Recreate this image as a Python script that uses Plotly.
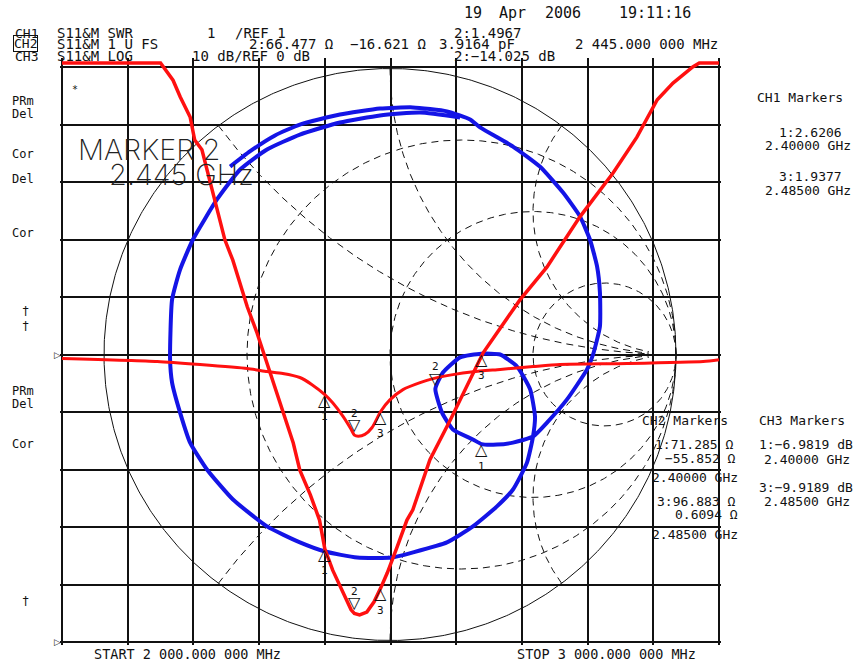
import numpy as np
import plotly.graph_objects as go

# ---------------- measurement data ----------------
START_MHZ, STOP_MHZ = 2000.0, 3000.0

# marker readouts (markers 1, 2, 3)
marker_freq_mhz = [2400.0, 2445.0, 2485.0]
marker_swr = [2.6206, 1.4967, 1.9377]
marker_logmag_db = [-6.9819, -14.025, -9.9189]
marker_z_re = [71.285, 66.477, 96.883]
marker_z_im = [-55.852, -16.621, 0.6094]
Z0 = 50.0

# CH1: S11 SWR
swr_freq = [2000, 2100, 2150, 2169, 2180, 2195, 2202, 2213, 2230, 2248, 2260, 2282,
            2297, 2317, 2336, 2352, 2362, 2378, 2392, 2400, 2412, 2428, 2440, 2445,
            2453, 2464, 2475, 2485, 2495, 2510, 2525, 2534, 2560, 2591, 2641, 2697,
            2738, 2788, 2839, 2875, 2906, 2930, 2960, 2970, 3000]
swr_val = [18.0, 14.5, 11.3, 10.77, 10.48, 10.13, 9.73, 9.56, 8.81, 7.99, 7.64, 6.83,
           6.37, 5.68, 5.03, 4.46, 3.99, 3.56, 3.12, 2.6206, 2.25, 1.87, 1.56, 1.4967,
           1.47, 1.52, 1.70, 1.9377, 2.20, 2.65, 3.12, 3.30, 4.17, 4.86, 6.03, 6.95,
           7.52, 8.39, 9.16, 9.78, 10.43, 10.72, 11.0, 11.3, 14.0]

# CH3: S11 log magnitude (dB)
lm_freq = [2000, 2145, 2210, 2282, 2312, 2336, 2362, 2380, 2400, 2412, 2428, 2440,
           2445, 2451, 2461, 2472, 2485, 2499, 2519, 2545, 2565, 2595, 2626, 2667,
           2717, 2758, 2860, 2976, 3000]
lm_db = [-0.70, -1.22, -1.74, -2.43, -2.96, -3.30, -4.0, -5.2, -6.9819, -8.4, -10.8,
         -13.0, -14.025, -14.2, -13.9, -12.7, -9.9189, -7.9, -6.1, -4.9, -4.2, -3.5,
         -3.0, -2.6, -2.1, -1.74, -1.57, -1.22, -0.9]

# CH2: S11 on the Smith chart (reflection coefficient, 2 GHz -> 3 GHz)
smith_re = [-0.559, -0.490, -0.402, -0.315, -0.175, -0.035, 0.080, 0.199, 0.280, 0.315,
            0.430, 0.524, 0.605, 0.664, 0.699, 0.724, 0.734, 0.734, 0.710, 0.689,
            0.619, 0.549, 0.500, 0.430, 0.374, 0.3197, 0.290, 0.220, 0.182, 0.1586,
            0.185, 0.245, 0.3192, 0.385, 0.444, 0.490, 0.507, 0.500, 0.479, 0.430,
            0.374, 0.290, 0.199, 0.080, 0.007, -0.115, -0.227, -0.315, -0.430, -0.549,
            -0.640, -0.699, -0.734, -0.762, -0.769, -0.762, -0.734, -0.689, -0.605,
            -0.524, -0.430, -0.315, -0.175, -0.035, 0.105, 0.245]
smith_im = [0.657, 0.710, 0.766, 0.804, 0.839, 0.860, 0.864, 0.850, 0.822, 0.794,
            0.727, 0.657, 0.566, 0.483, 0.402, 0.308, 0.217, 0.098, 0.0, -0.052,
            -0.157, -0.238, -0.287, -0.308, -0.315, -0.3132, -0.297, -0.262, -0.203,
            -0.1201, -0.063, -0.010, 0.0028, 0.0, -0.042, -0.122, -0.217, -0.287,
            -0.378, -0.472, -0.531, -0.601, -0.657, -0.692, -0.710, -0.710, -0.689,
            -0.657, -0.601, -0.507, -0.402, -0.308, -0.203, -0.098, -0.017, 0.192,
            0.297, 0.402, 0.542, 0.647, 0.717, 0.769, 0.811, 0.836, 0.846, 0.829]

# Smith chart graticule values
graticule_r = [1.0 / 3.0, 1.0, 3.0]
graticule_x = [0.5, -0.5, 1.0, -1.0, 2.0, -2.0]

# ---------------- display geometry (pixels) ----------------
W, H = 853, 663
PL, PR, PT, PB = 60, 721, 58, 645          # plot area
GL, GR, GT, GB = 62, 719, 67, 642          # graticule box
GCY = (GT + GB) / 2.0
SMITH_CX, SMITH_R = 390.0, 286.0
SWR_TOP_CLIP = 11.0 + 4.0 / 57.5           # trace pinned just above the top line

px_mhz = (GR - GL) / (STOP_MHZ - START_MHZ)
px_swr = (GB - GT) / 10.0
px_db = (GB - GT) / 100.0

f_range = [START_MHZ - (GL - PL) / px_mhz, STOP_MHZ + (PR - GR) / px_mhz]
swr_range = [1.0 - (PB - GB) / px_swr, 11.0 + (GT - PT) / px_swr]
db_range = [-(PB - GCY) / px_db, (GCY - PT) / px_db]
gx_range = [(PL - SMITH_CX) / SMITH_R, (PR - SMITH_CX) / SMITH_R]
gy_range = [-(PB - GCY) / SMITH_R, (GCY - PT) / SMITH_R]

INK = "#111111"
RED = "#ff1010"
BLUE = "#1414e6"
MONO = "DejaVu Sans Mono, monospace"

fig = go.Figure()

# --- Smith graticule ---
t = np.linspace(0, 2 * np.pi, 721)
fig.add_trace(go.Scatter(x=np.cos(t), y=np.sin(t), mode="lines",
                         line=dict(color=INK, width=1), hoverinfo="skip",
                         xaxis="x", yaxis="y"))
for r in graticule_r:
    fig.add_trace(go.Scatter(x=r / (1 + r) + np.cos(t) / (1 + r), y=np.sin(t) / (1 + r),
                             mode="lines", line=dict(color=INK, width=1, dash="7px,5px"),
                             hoverinfo="skip", xaxis="x", yaxis="y"))
rr = np.concatenate([np.linspace(0, 1, 200), np.geomspace(1.01, 20, 300)])
for xv in graticule_x:
    g = (rr + 1j * xv - 1) / (rr + 1j * xv + 1)
    fig.add_trace(go.Scatter(x=g.real, y=g.imag, mode="lines",
                             line=dict(color=INK, width=1, dash="7px,5px"),
                             hoverinfo="skip", xaxis="x", yaxis="y"))

# --- CH2 Smith trace ---
fig.add_trace(go.Scatter(x=smith_re, y=smith_im, mode="lines",
                         line=dict(color=BLUE, width=4, shape="spline", smoothing=0.5),
                         xaxis="x", yaxis="y"))

# --- CH1 SWR trace ---
fig.add_trace(go.Scatter(x=swr_freq, y=np.minimum(swr_val, SWR_TOP_CLIP), mode="lines",
                         line=dict(color=RED, width=3.5),
                         xaxis="x2", yaxis="y2"))

# --- CH3 log magnitude trace ---
fig.add_trace(go.Scatter(x=lm_freq, y=lm_db, mode="lines",
                         line=dict(color=RED, width=3, shape="spline", smoothing=0.6),
                         xaxis="x2", yaxis="y3"))

# ---------------- markers ----------------
z = (np.array(marker_z_re) + 1j * np.array(marker_z_im)) / Z0
gamma_m = (z - 1) / (z + 1)


def add_marker(xv, yv, xref, yref, num):
    if num == 2:
        fig.add_annotation(x=xv, y=yv, xref=xref, yref=yref, text="▽", showarrow=False,
                           yanchor="bottom", yshift=-1,
                           font=dict(family="DejaVu Sans", size=16, color=INK))
        fig.add_annotation(x=xv, y=yv, xref=xref, yref=yref, text="2", showarrow=False,
                           yshift=22, font=dict(family=MONO, size=11, color=INK))
    else:
        fig.add_annotation(x=xv, y=yv, xref=xref, yref=yref, text="△", showarrow=False,
                           yanchor="top", yshift=6,
                           font=dict(family="DejaVu Sans", size=16, color=INK))
        fig.add_annotation(x=xv, y=yv, xref=xref, yref=yref, text=str(num),
                           showarrow=False, yshift=-22,
                           font=dict(family=MONO, size=11, color=INK))


for i, num in enumerate([1, 2, 3]):
    add_marker(marker_freq_mhz[i], marker_swr[i], "x2", "y2", num)
    add_marker(marker_freq_mhz[i], marker_logmag_db[i], "x2", "y3", num)
    add_marker(gamma_m[i].real, gamma_m[i].imag, "x", "y", num)

# ---------------- screen text ----------------


def px_text(px, py, text, size=14, anchor="left", family=MONO, color=INK,
            weight="normal", **kw):
    fig.add_annotation(x=(px - PL) / (PR - PL), y=(PB - py) / (PB - PT),
                       xref="paper", yref="paper", text=text, showarrow=False,
                       xanchor=anchor, yanchor="middle",
                       font=dict(family=family, size=size, color=color, weight=weight),
                       **kw)


px_text(462, 13, "19", size=15)
px_text(497, 13, "Apr", size=15)
px_text(543, 13, "2006", size=15)
px_text(617, 13, "19:11:16", size=15)

px_text(13, 33, "CH1", size=13)
px_text(55, 33, "S11&M SWR")
px_text(205, 33, "1")
px_text(233, 33, "/REF 1")
px_text(452, 33, "2:1.4967")

px_text(13, 44, "CH2", size=13, bordercolor=INK, borderwidth=1, borderpad=0)
px_text(55, 44, "S11&M 1 U FS")
px_text(247, 44, "2:66.477 Ω")
px_text(348, 44, "−16.621 Ω")
px_text(437, 44, "3.9164 pF")
px_text(573, 44, "2 445.000 000 MHz")

px_text(13, 56, "CH3", size=13)
px_text(55, 56, "S11&M LOG")
px_text(190, 56, "10 dB/REF 0 dB")
px_text(452, 56, "2:−14.025 dB")

px_text(70, 89, "*", size=10)
px_text(76, 149, "MARKER 2", size=29, family="Inter, DejaVu Sans", weight=200,
        color="#222222")
px_text(107, 174, "2.445 GHz", size=29, family="Inter, DejaVu Sans", weight=200,
        color="#222222")

for py, label in [(101, "PRm"), (114, "Del"), (154, "Cor"), (179, "Del"), (233, "Cor"),
                  (391, "PRm"), (404, "Del"), (444, "Cor")]:
    px_text(10, py, label, size=12)
for py in [311, 326, 601]:
    px_text(20, py, "†", size=12)
for py in [GCY, GB]:
    px_text(52, py, "▷", size=9, family="DejaVu Sans")

px_text(755, 97, "CH1 Markers", size=13)
px_text(777, 132, "1:2.6206", size=13)
px_text(763, 145, "2.40000 GHz", size=13)
px_text(777, 176, "3:1.9377", size=13)
px_text(763, 191, "2.48500 GHz", size=13)

px_text(640, 421, "CH2 Markers", size=13)
px_text(653, 444, "1:71.285 Ω", size=13)
px_text(663, 458, "−55.852 Ω", size=13)
px_text(650, 477, "2.40000 GHz", size=13)
px_text(655, 501, "3:96.883 Ω", size=13)
px_text(673, 514, "0.6094 Ω", size=13)
px_text(650, 534, "2.48500 GHz", size=13)

px_text(757, 421, "CH3 Markers", size=13)
px_text(757, 444, "1:−6.9819 dB", size=13)
px_text(762, 459, "2.40000 GHz", size=13)
px_text(757, 487, "3:−9.9189 dB", size=13)
px_text(762, 501, "2.48500 GHz", size=13)

px_text(92, 654, "START 2 000.000 000 MHz", size=13.5)
px_text(515, 654, "STOP 3 000.000 000 MHz", size=13.5)

# ---------------- axes ----------------
hidden = dict(visible=False, fixedrange=True, showgrid=False, zeroline=False)
grid_style = dict(showgrid=True, gridcolor=INK, gridwidth=1.6, showticklabels=False,
                  ticks="", zeroline=False, showline=False, fixedrange=True)

fig.update_layout(
    width=W, height=H,
    margin=dict(l=PL, r=W - PR, t=PT, b=H - PB, pad=0),
    paper_bgcolor="white", plot_bgcolor="white",
    showlegend=False,
    xaxis=dict(range=gx_range, **hidden),
    yaxis=dict(range=gy_range, **hidden),
    xaxis2=dict(range=f_range, overlaying="x", anchor="y2",
                tickvals=list(np.arange(START_MHZ, STOP_MHZ + 1, 100.0)), **grid_style),
    yaxis2=dict(range=swr_range, overlaying="y", anchor="x2",
                tickvals=list(range(1, 12)), **grid_style),
    yaxis3=dict(range=db_range, overlaying="y", anchor="x2", **hidden),
)

fig.write_html("out.html")
